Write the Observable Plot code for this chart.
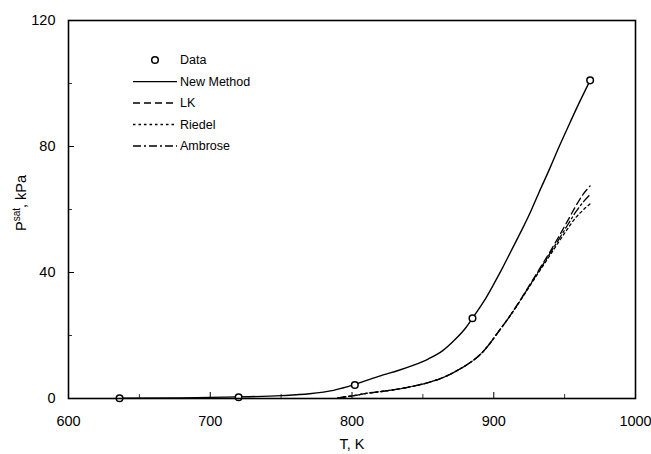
<!DOCTYPE html>
<html>
<head>
<meta charset="utf-8">
<script src="https://cdn.jsdelivr.net/npm/d3@7"></script>
<script src="https://cdn.jsdelivr.net/npm/@observablehq/plot@0.6"></script>
<style>
  body { margin: 0; background: #fff; }
  #wrap { position: relative; width: 651px; height: 454px; font-family: "Liberation Sans", Arial, sans-serif; }
</style>
</head>
<body>
<div id="wrap"></div>
<script>
// Experimental data
const dataT = [636, 720, 802, 885, 968];
const dataP = [0.1, 0.4, 4.3, 25.5, 101];

// New Method
const nmT = [636, 680, 720, 750, 770, 787, 801, 812, 822, 832, 843, 854, 864, 872, 880, 885, 893, 900, 906, 912, 919, 926, 932, 939, 945, 952, 960, 968];
const nmP = [0.1, 0.2, 0.5, 0.9, 1.5, 2.6, 4.3, 6.0, 7.5, 8.8, 10.5, 12.6, 15.2, 18.4, 22.3, 25.5, 30.8, 36.3, 41.3, 46.6, 52.8, 59.3, 65.5, 72.5, 78.8, 85.8, 93.6, 101];

// LK, Riedel, Ambrose
const cmpT = [790, 800, 811, 822, 834, 846, 857, 867, 877, 884, 891, 897, 903, 910, 916, 922, 928, 934, 940, 946, 952, 958, 963, 968];
const lkP      = [0.2, 0.8, 1.7, 2.3, 3.1, 4.2, 5.5, 7.2, 9.6, 11.6, 14.2, 17.3, 21.0, 25.3, 29.3, 33.6, 38.0, 42.4, 46.8, 51.5, 56.3, 61.2, 64.8, 67.5];
const riedelP  = [0.2, 0.8, 1.7, 2.3, 3.1, 4.2, 5.5, 7.2, 9.6, 11.6, 14.2, 17.3, 21.0, 25.3, 29.2, 33.3, 37.5, 41.6, 45.7, 49.8, 53.8, 57.5, 59.8, 61.8];
const ambroseP = [0.2, 0.8, 1.7, 2.3, 3.1, 4.2, 5.5, 7.2, 9.6, 11.6, 14.2, 17.3, 21.0, 25.3, 29.3, 33.5, 37.8, 42.0, 46.3, 50.6, 55.0, 59.3, 62.3, 64.8];

// Axis ticks
const xMajor = [600, 700, 800, 900, 1000];
const xMinor = [650, 750, 850, 950];
const yMajor = [0, 40, 80, 120];
const yMinor = [20, 60, 100];

const legendItems = ["Data", "New Method", "LK", "Riedel", "Ambrose"];

const pts = dataT.map((t, i) => ({T: t, P: dataP[i]}));
const nm = nmT.map((t, i) => ({T: t, P: nmP[i]}));
const lk = cmpT.map((t, i) => ({T: t, P: lkP[i]}));
const ri = cmpT.map((t, i) => ({T: t, P: riedelP[i]}));
const am = cmpT.map((t, i) => ({T: t, P: ambroseP[i]}));

const font = '"Liberation Sans", Arial, sans-serif';
const W = 651, H = 454, mL = 68, mR = 16, mT = 20, mB = 56;
const kx = 400 / (W - mL - mR), ky = 120 / (H - mT - mB);

const chart = Plot.plot({
  width: W, height: H,
  marginLeft: mL, marginRight: mR, marginTop: mT, marginBottom: mB,
  style: {fontFamily: font, fontSize: "14.5px", color: "#000", background: "#fff"},
  x: {domain: [600, 1000]},
  y: {domain: [0, 120]},
  marks: [
    Plot.axisX(xMajor, {tickSize: 0, tickPadding: 17, label: null, fontSize: 14.5, tickFormat: d => String(d)}),
    Plot.axisY(yMajor, {tickSize: 0, tickPadding: 13, label: null, fontSize: 14.5, tickFormat: d => String(d)}),
    Plot.ruleX(xMajor, {x: d => d, y1: 0, y2: 6 * ky, stroke: "#000", strokeWidth: 1}),
    Plot.ruleX(xMinor, {x: d => d, y1: 0, y2: 4 * ky, stroke: "#000", strokeWidth: 0.8}),
    Plot.ruleY(yMajor, {y: d => d, x1: 600, x2: 600 + 6 * kx, stroke: "#000", strokeWidth: 1}),
    Plot.ruleY(yMinor, {y: d => d, x1: 600, x2: 600 + 4 * kx, stroke: "#000", strokeWidth: 0.8}),
    Plot.line(lk, {x: "T", y: "P", stroke: "#000", strokeWidth: 1.3, strokeDasharray: "7,4", curve: "monotone-x"}),
    Plot.line(ri, {x: "T", y: "P", stroke: "#000", strokeWidth: 1.3, strokeDasharray: "2.5,3", curve: "monotone-x"}),
    Plot.line(am, {x: "T", y: "P", stroke: "#000", strokeWidth: 1.3, strokeDasharray: "8,3,2,3", curve: "monotone-x"}),
    Plot.line(nm, {x: "T", y: "P", stroke: "#000", strokeWidth: 1.4, curve: "monotone-x"}),
    Plot.dot(pts, {x: "T", y: "P", r: 3.3, stroke: "#000", strokeWidth: 1.5, fill: "#fff"}),
    Plot.frame({stroke: "#000", strokeWidth: 1.6})
  ]
});
document.getElementById("wrap").appendChild(chart);

// axis titles and legend
const svg = d3.select(chart);
svg.append("text").attr("x", 352).attr("y", 449).attr("text-anchor", "middle")
  .attr("font-family", font).attr("font-size", 14.5).attr("fill", "#000").text("T, K");
const yl = svg.append("text").attr("transform", "translate(26,203) rotate(-90)").attr("text-anchor", "middle")
  .attr("font-family", font).attr("font-size", 14.5).attr("fill", "#000");
yl.append("tspan").text("P");
yl.append("tspan").attr("font-size", 10).attr("dy", -6).text("sat");
yl.append("tspan").attr("dy", 6).text(", kPa");

const lg = svg.append("g").attr("font-family", font).attr("font-size", 12.5).attr("fill", "#000").attr("text-anchor", "start");
const rowY = [60, 81.7, 103, 124.5, 146];
const dashes = [null, null, "7,4", "2.5,3", "8,3,2,3"];
legendItems.forEach((name, i) => {
  const y = rowY[i];
  if (i === 0) {
    lg.append("circle").attr("cx", 155).attr("cy", y).attr("r", 3.3).attr("fill", "#fff").attr("stroke", "#000").attr("stroke-width", 1.5);
  } else {
    lg.append("line").attr("x1", 133).attr("x2", 177).attr("y1", y).attr("y2", y)
      .attr("stroke", "#000").attr("stroke-width", 1.3).attr("stroke-dasharray", dashes[i]);
  }
  lg.append("text").attr("x", 180).attr("y", y).attr("dy", "0.35em").attr("text-anchor", "start").text(name);
});
</script>
</body>
</html>
